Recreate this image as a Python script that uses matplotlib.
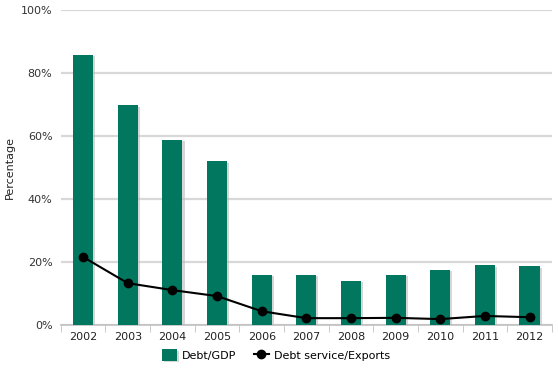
import matplotlib
matplotlib.use("Agg")
import matplotlib.pyplot as plt
import matplotlib.patheffects as pe
from matplotlib.ticker import FuncFormatter, MultipleLocator
import numpy as np

years = ["2002", "2003", "2004", "2005", "2006", "2007", "2008", "2009", "2010", "2011", "2012"]
debt_gdp = [85.7, 69.8, 58.7, 52.0, 15.9, 15.9, 14.0, 15.9, 17.5, 19.0, 18.7]
debt_service = [21.6, 13.3, 11.1, 9.2, 4.4, 2.2, 2.2, 2.3, 1.9, 2.9, 2.5]

plt.rcParams['font.family'] = ['DejaVu Sans']
fig = plt.figure(figsize=(5.58, 3.69), dpi=100)
ax = fig.add_axes([0.109, 0.119, 0.880, 0.854])

x = np.arange(len(years))
green = "#00775E"
bars = ax.bar(x, debt_gdp, width=0.45, color=green, zorder=3, label="Debt/GDP",
              path_effects=[pe.SimplePatchShadow(offset=(1.5, -1), shadow_rgbFace="#bbbbbb", alpha=0.6), pe.Normal()])
line, = ax.plot(x, debt_service, color="black", lw=1.5, marker="o", ms=6, zorder=4,
                label="Debt service/Exports")

ax.set_xlim(-0.5, len(years) - 0.5)
ax.set_ylim(0, 100)
ax.yaxis.set_major_locator(MultipleLocator(20))
ax.yaxis.set_major_formatter(FuncFormatter(lambda v, p: f"{int(v)}%"))
ax.grid(axis="y", color="#d8d8d8", lw=1.6, zorder=0)
ax.set_axisbelow(True)
for s in ["top", "right", "left"]:
    ax.spines[s].set_visible(False)
ax.spines["bottom"].set_color("#c0c0c0")
ax.spines["bottom"].set_linewidth(1.2)
ax.set_xticks(x)
ax.set_xticklabels(years)
ax.set_xticks(np.arange(-0.5, len(years), 1), minor=True)
ax.tick_params(axis="x", which="major", length=0, labelsize=8, colors="#222222", pad=5)
ax.tick_params(axis="x", which="minor", length=5, color="#c0c0c0")
ax.tick_params(axis="y", length=0, labelsize=8, colors="#333333", pad=6)
ax.set_ylabel("Percentage", fontsize=8, color="#222222", labelpad=4)

leg = fig.legend(handles=[bars, line], labels=["Debt/GDP", "Debt service/Exports"],
                 loc="lower center", bbox_to_anchor=(0.495, -0.005), ncol=2, frameon=False,
                 fontsize=8, handlelength=1.3, handleheight=1.2, handletextpad=0.5,
                 columnspacing=1.6)
plt.savefig("out.png", dpi=100)
